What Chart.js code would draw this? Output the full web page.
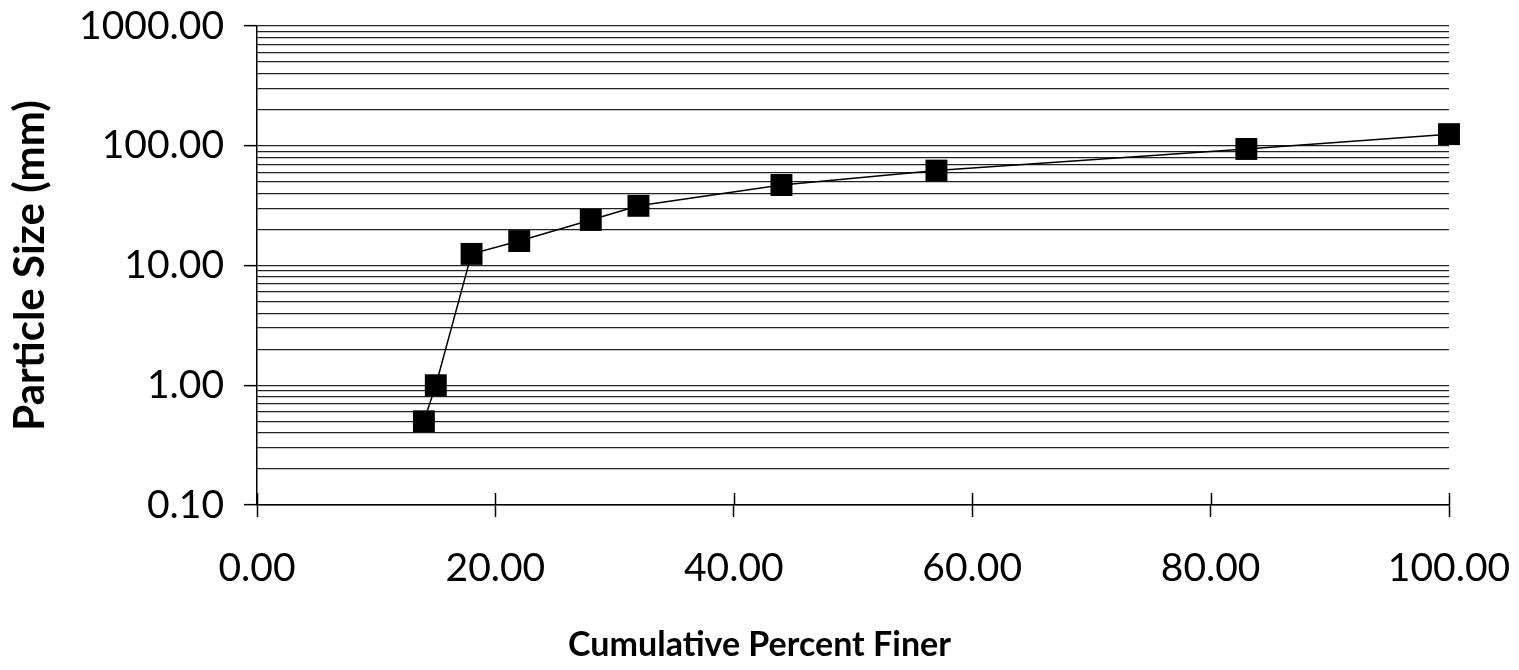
<!DOCTYPE html>
<html>
<head>
<meta charset="utf-8">
<script src="https://cdn.jsdelivr.net/npm/chart.js@4.4.1/dist/chart.umd.min.js"></script>
<style>
  html, body { margin: 0; padding: 0; background: #fff; }
  #wrap { width: 1519px; height: 670px; }
</style>
</head>
<body>
<div id="wrap"><canvas id="c" width="1519" height="670"></canvas></div>
<script>
// Data
const percentFiner = [14, 15, 18, 22, 28, 32, 44, 57, 83, 100];
const particleSize = [0.5, 1.0, 12.5, 16, 24, 31.5, 47, 62, 94, 125];
const xTickValues = [0, 20, 40, 60, 80, 100];
const yMajorTicks = [0.1, 1, 10, 100, 1000];
const yMinorMultipliers = [2, 3, 4, 5, 6, 7, 8, 9];

const xLabel = 'Cumulative Percent Finer';
const yLabel = 'Particle Size (mm)';

const points = percentFiner.map((x, i) => ({ x: x, y: particleSize[i] }));

const yTicks = [];
yMajorTicks.forEach((m, i) => {
  yTicks.push({ value: m, major: true });
  if (i < yMajorTicks.length - 1) {
    yMinorMultipliers.forEach(k => yTicks.push({ value: +(m * k).toPrecision(3), major: false }));
  }
});

// short tick marks above the x axis, and the x-axis title centred on the page
const xAxisExtras = {
  id: 'xAxisExtras',
  afterDatasetsDraw(chart) {
    const xs = chart.scales.x, ctx = chart.ctx;
    const y0 = chart.chartArea.bottom;
    ctx.save();
    ctx.strokeStyle = '#000';
    ctx.lineWidth = 1.5;
    xTickValues.forEach(v => {
      const px = Math.round(xs.getPixelForValue(v)) + 0.5;
      ctx.beginPath();
      ctx.moveTo(px, y0);
      ctx.lineTo(px, y0 - 12);
      ctx.stroke();
    });
    ctx.fillStyle = '#000';
    ctx.font = 'bold 34px Lato';
    ctx.textAlign = 'center';
    ctx.textBaseline = 'middle';
    ctx.fillText(xLabel, chart.width / 2, 645);
    ctx.restore();
  }
};

new Chart(document.getElementById('c'), {
  type: 'scatter',
  data: {
    datasets: [{
      data: points,
      showLine: true,
      clip: false,
      borderColor: '#000',
      borderWidth: 1.5,
      backgroundColor: '#000',
      pointStyle: 'rect',
      pointRadius: 15.5,
      pointHoverRadius: 15.5,
      pointBackgroundColor: '#000',
      pointBorderColor: '#000',
      pointBorderWidth: 0,
      tension: 0
    }]
  },
  options: {
    responsive: false,
    animation: false,
    layout: { padding: { top: 26, right: 70, left: 0, bottom: 0 } },
    plugins: { legend: { display: false }, tooltip: { enabled: false }, title: { display: false } },
    scales: {
      x: {
        type: 'linear',
        min: 0, max: 100,
        afterBuildTicks: (s) => { s.ticks = xTickValues.map(v => ({ value: v })); },
        afterFit: (s) => { s.height = 165; s.paddingLeft = 0; s.paddingRight = 0; },
        grid: { drawOnChartArea: false, drawTicks: true, tickLength: 12, tickColor: '#000', tickWidth: 1.5 },
        border: { display: true, color: '#000', width: 1.5 },
        ticks: {
          padding: 28,
          color: '#000',
          font: { family: 'Lato', size: 39 },
          maxRotation: 0,
          callback: (v) => Number(v).toFixed(2)
        },
        title: { display: false, text: xLabel }
      },
      y: {
        type: 'logarithmic',
        min: 0.1, max: 1000,
        afterBuildTicks: (s) => { s.ticks = yTicks.map(t => ({ value: t.value, major: t.major })); },
        afterFit: (s) => { s.width = 257; s.paddingTop = 0; s.paddingBottom = 0; },
        grid: {
          color: '#222',
          lineWidth: 1.3,
          drawTicks: true,
          tickLength: 13,
          tickColor: (ctx) => (ctx.tick && ctx.tick.major) ? '#000' : 'rgba(0,0,0,0)',
          tickWidth: 1.5
        },
        border: { display: true, color: '#000', width: 1.5 },
        ticks: {
          padding: 20,
          color: '#000',
          autoSkip: false,
          font: { family: 'Lato', size: 39 },
          callback: function (v) {
            return yMajorTicks.some(m => Math.abs(m - v) < 1e-9) ? Number(v).toFixed(2) : '';
          }
        },
        title: {
          display: true,
          text: yLabel,
          color: '#000',
          font: { family: 'Lato', size: 42, weight: 'bold' },
          padding: { top: 5, bottom: 0 }
        }
      }
    }
  },
  plugins: [xAxisExtras]
});
</script>
</body>
</html>
